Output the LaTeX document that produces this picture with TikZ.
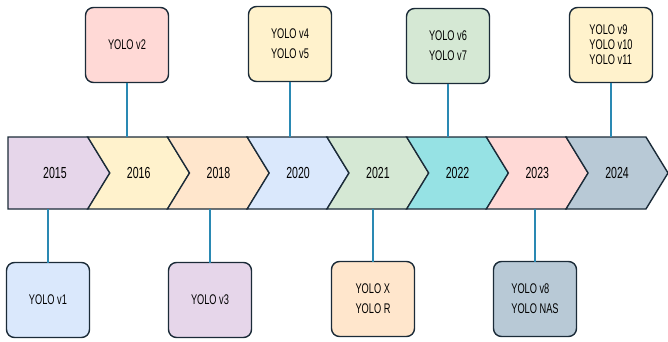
\documentclass[tikz,border=0pt]{standalone}
\usepackage{fontspec}
\usepackage{xcolor}
\usepackage{tikz}
\usetikzlibrary{positioning,shapes.symbols,arrows.meta}
\newfontfamily\tlfont{Liberation Sans}[FakeStretch=0.66]
\definecolor{edge}{HTML}{1B2B38}
\definecolor{link}{HTML}{2A89B3}
\definecolor{lav}{HTML}{E6D6EA}
\definecolor{cream}{HTML}{FFF2CC}
\definecolor{peach}{HTML}{FFE6CC}
\definecolor{sky}{HTML}{DAE8FC}
\definecolor{mint}{HTML}{D5E8D4}
\definecolor{aqua}{HTML}{96E2E4}
\definecolor{rose}{HTML}{FFD9D6}
\definecolor{slate}{HTML}{B8C9D6}
\tikzset{
  chev/.style={signal,signal to=east,signal from=west,signal pointer angle=117,
    draw=edge,line width=1.4pt,minimum width=102pt,minimum height=72pt,
    inner sep=0pt,outer sep=0pt,anchor=east,
    font={\tlfont\fontsize{16}{18}\selectfont}},
  first/.style={chev,signal from=nowhere},
  ver/.style={rectangle,draw=edge,line width=1.4pt,rounded corners=8pt,
    minimum width=83pt,minimum height=75pt,align=left,inner sep=2pt,
    outer sep=0pt,font={\tlfont\fontsize{14}{20}\selectfont}},
  tight/.style={font={\tlfont\fontsize{14}{15}\selectfont}},
  stem/.style={draw=link,line width=1.2pt},
}
\begin{document}
\begin{tikzpicture}[x=1pt,y=1pt]
  \useasboundingbox (0,0) rectangle (668,341);
  % timeline band
  \node[first,fill=lav] (y15) at (110,168) {\kern14pt 2015};
  \node[chev,fill=cream] (y16) at (189.7,168) {2016};
  \node[chev,fill=peach] (y18) at (269.4,168) {2018};
  \node[chev,fill=sky] (y20) at (349.1,168) {2020};
  \node[chev,fill=mint] (y21) at (428.9,168) {2021};
  \node[chev,fill=aqua] (y22) at (508.6,168) {2022};
  \node[chev,fill=rose] (y23) at (588.3,168) {2023};
  \node[chev,fill=slate] (y24) at (668,168) {2024};
  % versions above
  \node[ver,fill=rose] (v2) at (127,296) {YOLO v2};
  \node[ver,fill=cream] (v4) at (290,297) {YOLO v4\\YOLO v5};
  \node[ver,fill=mint] (v6) at (448,295) {YOLO v6\\YOLO v7};
  \node[ver,fill=cream,tight] (v9) at (611,296) {YOLO v9\\YOLO v10\\YOLO v11};
  % versions below
  \node[ver,fill=sky] (v1) at (48,41) {YOLO v1};
  \node[ver,fill=lav] (v3) at (210,41) {YOLO v3};
  \node[ver,fill=peach] (vx) at (373,42) {YOLO X\\YOLO R};
  \node[ver,fill=slate] (v8) at (535,42) {YOLO v8\\YOLO NAS};
  \draw[stem] (v2.south)--(v2.south |- y16.north);
  \draw[stem] (v4.south)--(v4.south |- y20.north);
  \draw[stem] (v6.south)--(v6.south |- y22.north);
  \draw[stem] (v9.south)--(v9.south |- y24.north);
  \draw[stem] (v1.north)--(v1.north |- y15.south);
  \draw[stem] (v3.north)--(v3.north |- y18.south);
  \draw[stem] (vx.north)--(vx.north |- y21.south);
  \draw[stem] (v8.north)--(v8.north |- y23.south);
\end{tikzpicture}
\end{document}
